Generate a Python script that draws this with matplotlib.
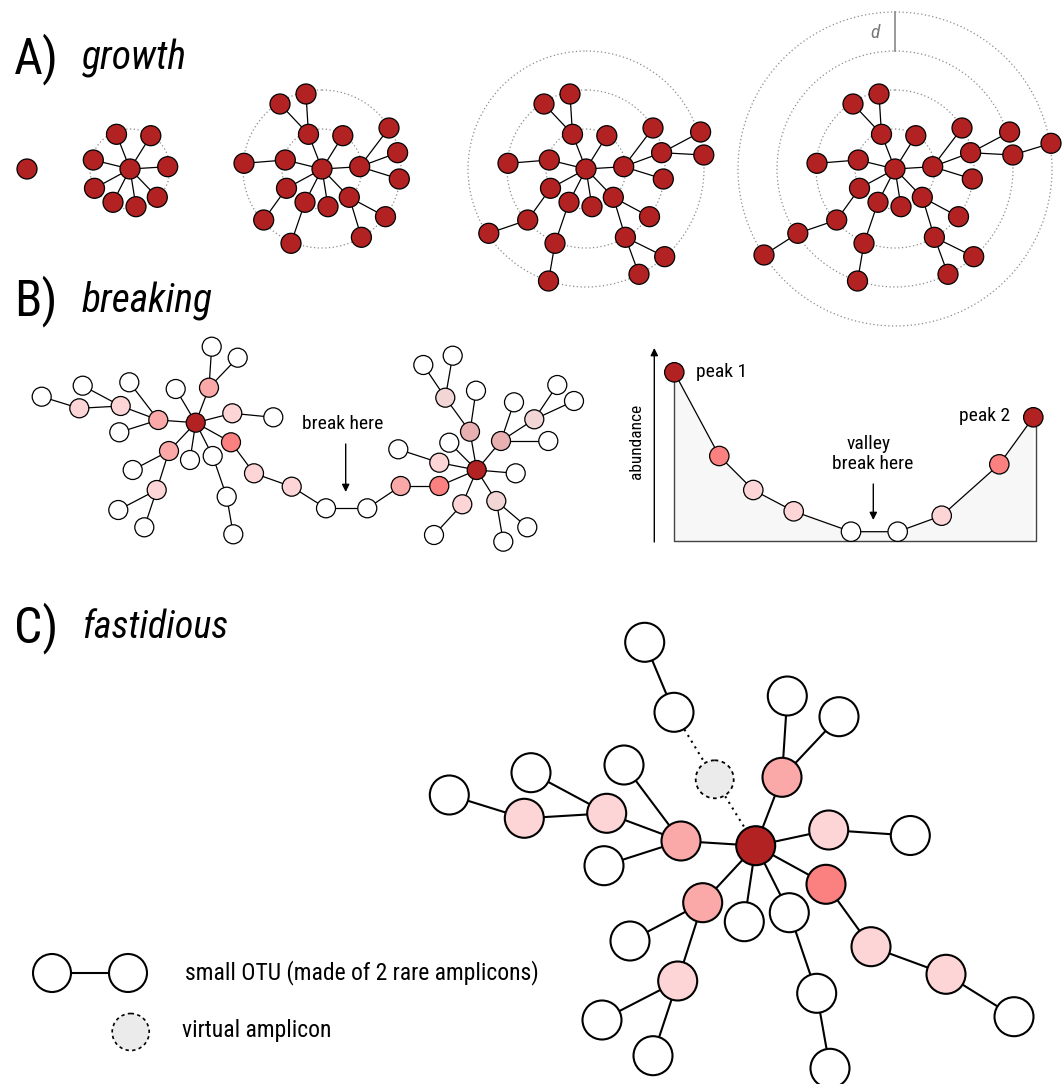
"""Схема: рост, разрыв и fastidious-слияние OTU (три панели, координаты в пикселях)."""
import matplotlib
matplotlib.use('Agg')
import matplotlib.pyplot as plt
from matplotlib.patches import Circle, Polygon

# узкий шрифт, если найдётся
plt.rcParams['font.family'] = ['Noto Sans Condensed', 'DejaVu Sans Condensed', 'Roboto Condensed',
                               'Noto Sans', 'DejaVu Sans']
plt.rcParams['font.stretch'] = 'condensed'

DARK, SALMON, MID, LIGHT = '#b22222', '#fb8080', '#fba8a9', '#fdd5d6'
DUSTY, PALE, W, VIRT = '#e8b0b0', '#f2d6d6', 'white', '#ebebeb'
cmap = {'D': DARK, 'S': SALMON, 'M': MID, 'L': LIGHT, 'U': DUSTY, 'P': PALE, 'W': W, 'V': VIRT}

# ---- A) growth: центры стадий, смещения узлов по уровням, родитель в прошлом уровне
A_cx = [27, 130, 322, 586, 895]
A_cy = 169
ring_r = [40, 79, 118, 157]
lv_dx = [[-13.5, 20.8, -36.7, 37.7, -35.5, -17, 6, 27.3],
         [-42, -16, -78, 67, 75.6, 77.3, -58.3, -31, 63.5, 39.4],
         [114.6, 117.8, -97.2, -37.5, 78.7, 53],
         [156, -131]]
lv_dy = [[-34.7, -33.3, -9, -2.3, 19.3, 33.3, 37.7, 28.3],
         [-65, -75, -5.7, -41, -16.3, 10, 51, 74.3, 47.7, 68.3],
         [-37, -14, 64.3, 112, 87.7, 105.3],
         [-25.7, 86]]
lv_par = [[-1] * 8,
          [0, 0, 2, 3, 3, 3, 4, 5, 7, 7],
          [4, 4, 6, 7, 9, 9],
          [1, 2]]

# ---- B) breaking: дерево
B_x = [195.7, 209, 232.3, 231, 158.3, 169, 120.7, 79.3, 156.7, 254, 291.7,
       211.7, 237.7, 175.7, 273.3, 129.3, 119.3, 82.7, 41.7, 132.7, 190, 212.7, 226.7, 233.3,
       118.3, 144.3, 326, 367.3, 400.7, 439.3, 476.7, 439.3, 398.3, 449.3, 470, 445.3, 476,
       423.3, 452.7, 501, 514, 534.3, 548.3, 557.3, 574, 515.7, 462.3, 434, 496.3, 527.3, 503.3]
B_y = [422.7, 387.7, 413.3, 442.3, 420, 451, 406, 408.3, 490, 473.3, 486.7,
       346.7, 357.7, 389, 417.3, 382.3, 432.3, 385.7, 396.7, 470, 460, 456, 496.7, 534.3,
       510, 527.3, 508.3, 508.3, 486, 486, 470, 462.7, 449.3, 442.7, 431.7, 397.7, 390.7,
       365, 355.7, 441, 402.3, 419.3, 441, 385, 401, 473.3, 504.3, 535, 501, 527.3, 541.7]
B_col = 'DMLSMMLLLLL' + 'W' * 15 + 'WWMSDLWWUPWWWUWPWWWWLWPWW'
B_edges = [(0, 1), (0, 2), (0, 3), (0, 4), (0, 5), (0, 13), (0, 20), (0, 21), (1, 11), (1, 12),
           (2, 14), (3, 9), (9, 10), (10, 26), (26, 27), (27, 28), (28, 29), (29, 30),
           (4, 6), (4, 15), (4, 16), (6, 7), (6, 17), (7, 18), (5, 19), (5, 8), (8, 24), (8, 25),
           (21, 22), (22, 23), (30, 31), (31, 32), (30, 33), (30, 34), (34, 35), (34, 36),
           (35, 37), (35, 38), (30, 39), (39, 40), (39, 41), (39, 42), (41, 43), (41, 44),
           (30, 45), (30, 46), (46, 47), (30, 48), (48, 49), (48, 50)]

# профиль обилия вдоль цепочки
ab_x = [674.3, 719.3, 753.3, 793.7, 851, 897.7, 941.7, 999.3, 1033.3]
ab_y = [372.3, 456, 490, 511.3, 531.7, 531.7, 515.7, 464.3, 417.3]
ab_col = 'DSLLWWLSD'
ab_base = 541

# ---- C) fastidious (последний узел - виртуальный ампликон)
C_x = [755.7, 681, 606.7, 524.3, 449.3, 531, 624, 604, 782, 787.3, 839, 828.7, 910.3, 826,
       871, 946, 1014, 702.7, 630, 677.7, 602, 653, 744.3, 789.3, 816.7, 830, 644.7, 674, 714.7]
C_y = [845.7, 841, 813.3, 818.3, 795, 772.7, 765, 865.7, 777.3, 696, 716.7, 830, 835.5, 884.3,
       946.7, 974.3, 1016.7, 902.7, 941, 981, 1020, 1055.7, 921.7, 912.7, 993.3, 1068.3,
       642.3, 712.3, 779.3]
C_col = 'DMLLWWWWMWWLWSLLWMWLWWWWWWWWV'
C_edges = [(0, 1), (1, 2), (2, 3), (3, 4), (2, 5), (1, 6), (1, 7), (0, 8), (8, 9), (8, 10),
           (0, 11), (11, 12), (0, 13), (13, 14), (14, 15), (15, 16), (0, 17), (17, 18), (17, 19),
           (19, 20), (19, 21), (0, 22), (0, 23), (23, 24), (24, 25), (26, 27)]
C_dotted = [(27, 28), (28, 0)]

fig = plt.figure(figsize=(10.63, 10.84), dpi=100)
ax = fig.add_axes([0, 0, 1, 1])
ax.set_xlim(0, 1063); ax.set_ylim(1084, 0); ax.axis('off')


def node(x, y, r, fc, lw=0.9, ls='-'):
    ax.add_patch(Circle((x, y), r, fc=fc, ec='black', lw=lw, ls=ls, zorder=3))


def edge(x0, y0, x1, y1, lw=0.9, ls='-'):
    ax.plot([x0, x1], [y0, y1], color='black', lw=lw, ls=ls, zorder=2, solid_capstyle='butt')


# A
for s, cx in enumerate(A_cx):
    for r in ring_r[:s]:
        ax.add_patch(Circle((cx, A_cy), r, fill=False, ec='#8c8c8c', lw=0.9, ls=(0, (1, 2)), zorder=1))
    prev = [(cx, A_cy)]
    node(cx, A_cy, 10, DARK)
    for L in range(s):
        cur = []
        for dx, dy, p in zip(lv_dx[L], lv_dy[L], lv_par[L]):
            px, py = prev[p] if p >= 0 else (cx, A_cy)
            x, y = cx + dx, A_cy + dy
            edge(px, py, x, y)
            node(x, y, 10, DARK)
            cur.append((x, y))
        prev = cur
ax.plot([A_cx[-1]] * 2, [A_cy - ring_r[3], A_cy - ring_r[2]], color='#888888', lw=1.2, zorder=1)
ax.text(A_cx[-1] - 20, 33, 'd', fontsize=14, style='italic', color='#777777', ha='center', va='center')

# B дерево
for a, b in B_edges:
    edge(B_x[a], B_y[a], B_x[b], B_y[b])
for x, y, c in zip(B_x, B_y, B_col):
    node(x, y, 9.5, cmap[c])
ax.text(343, 424, 'break here', fontsize=14, ha='center', va='center')
ax.annotate('', xy=(345.7, 492), xytext=(345.7, 444),
            arrowprops=dict(arrowstyle='-|>', color='black', lw=1, mutation_scale=11, shrinkA=0, shrinkB=0))

# B профиль
poly = [(ab_x[0], ab_base)] + list(zip(ab_x, ab_y)) + [(ab_x[-1], ab_base)]
ax.add_patch(Polygon(poly, closed=True, fc='#f7f7f7', ec='none', zorder=1))
ax.plot([ab_x[0], ab_x[0], ab_x[-1] + 2.5, ab_x[-1] + 2.5], [ab_y[0], ab_base, ab_base, ab_y[-1]],
        color='#444444', lw=1, zorder=2)
ax.plot(ab_x, ab_y, color='black', lw=0.9, zorder=2)
for x, y, c in zip(ab_x, ab_y, ab_col):
    node(x, y, 9.7, cmap[c])
ax.annotate('', xy=(654.3, 348), xytext=(654.3, 542),
            arrowprops=dict(arrowstyle='-|>', color='black', lw=1, mutation_scale=11, shrinkA=0, shrinkB=0))
ax.text(636, 441, 'abundance', fontsize=12.5, rotation=90, ha='center', va='center')
ax.text(696, 372, 'peak 1', fontsize=14, ha='left', va='center')
ax.text(1010, 416, 'peak 2', fontsize=14, ha='right', va='center')
ax.text(869, 444, 'valley', fontsize=14, ha='center', va='center')
ax.text(873, 464, 'break here', fontsize=14, ha='center', va='center')
ax.annotate('', xy=(873.3, 520), xytext=(873.3, 484),
            arrowprops=dict(arrowstyle='-|>', color='black', lw=1, mutation_scale=11, shrinkA=0, shrinkB=0))

# C
for a, b in C_edges:
    edge(C_x[a], C_y[a], C_x[b], C_y[b], lw=1.5)
for a, b in C_dotted:
    edge(C_x[a], C_y[a], C_x[b], C_y[b], lw=1.5, ls=(0, (1, 2.2)))
for x, y, c in zip(C_x, C_y, C_col):
    if c == 'V':
        node(x, y, 19, VIRT, lw=1.3, ls=(0, (2, 2)))
    else:
        node(x, y, 19.5, cmap[c], lw=1.5)

# легенда
edge(52, 973, 128, 973, lw=1.5)
node(52, 973, 19, W, lw=1.5); node(128, 973, 19, W, lw=1.5)
node(130.7, 1032, 18.5, VIRT, lw=1.2, ls=(0, (2, 2)))
ax.text(185, 973, 'small OTU (made of 2 rare amplicons)', fontsize=17, ha='left', va='center')
ax.text(182, 1031, 'virtual amplicon', fontsize=17, ha='left', va='center')

# заголовки панелей
for lab, name, yb, fs in [('A)', 'growth', 73, 28.5), ('B)', 'breaking', 315, 28.5),
                          ('C)', 'fastidious', 642, 27.5)]:
    ax.text(14, yb, lab, fontsize=36, ha='left', va='baseline')
    ax.text(82, yb - 4, name, fontsize=fs, style='italic', ha='left', va='baseline')

fig.savefig('out.png', dpi=100)
